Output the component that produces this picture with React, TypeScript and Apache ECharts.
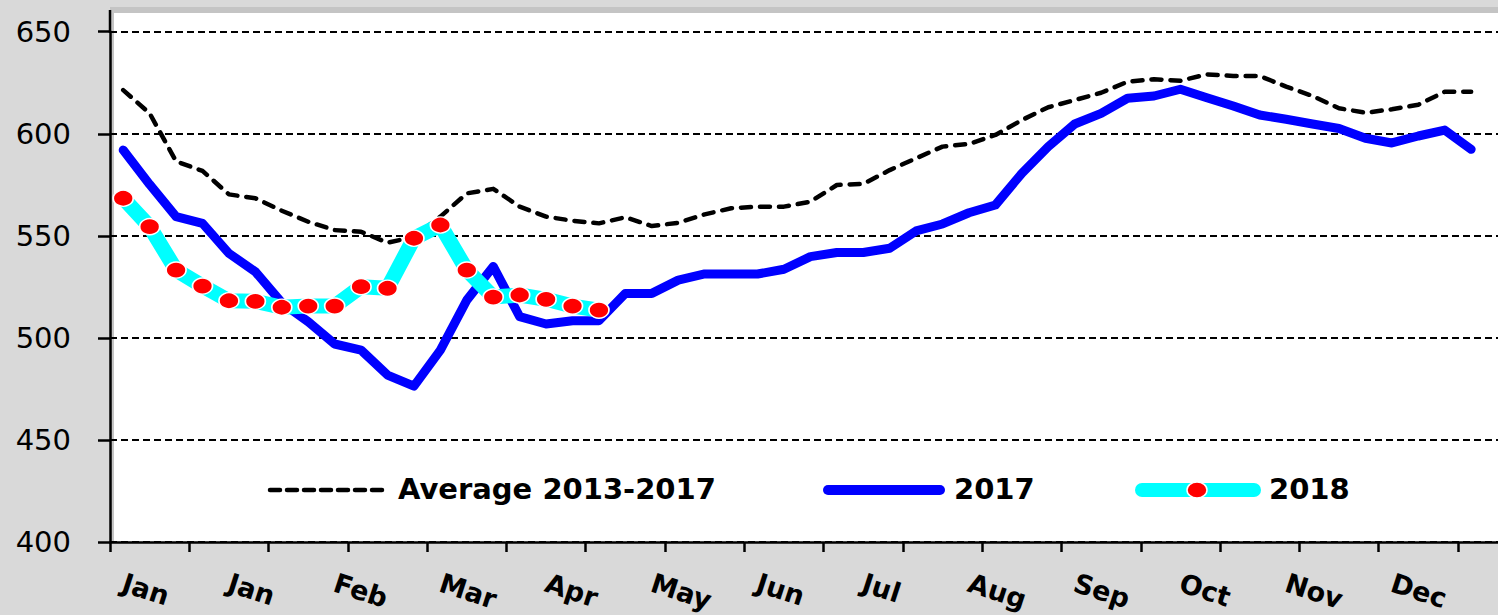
import React, { useEffect, useRef } from "react";
import * as echarts from "echarts";

// Weekly categories (month of each week); the 53rd slot is an unused, unlabeled week
const categories = [
  "Jan", "Jan", "Jan", "Jan", "Jan",
  "Feb", "Feb", "Feb", "Feb",
  "Mar", "Mar", "Mar", "Mar",
  "Apr", "Apr", "Apr", "Apr", "Apr",
  "May", "May", "May", "May",
  "Jun", "Jun", "Jun", "Jun",
  "Jul", "Jul", "Jul", "Jul", "Jul",
  "Aug", "Aug", "Aug", "Aug",
  "Sep", "Sep", "Sep", "Sep",
  "Oct", "Oct", "Oct", "Oct", "Oct",
  "Nov", "Nov", "Nov", "Nov",
  "Dec", "Dec", "Dec", "Dec",
  "",
];

const average2013_2017 = [
  621.4, 610, 586.5, 581.8, 570.3, 568.4, 562.3, 556.9, 552.8, 552,
  546.6, 549.5, 559.4, 570.8, 573, 564.3, 559.4, 557.4, 556.1, 559.1,
  554.8, 556.4, 560.5, 563.5, 564.3, 564.3, 566.7, 574.9, 575.4, 582.2,
  588, 593.7, 595, 599.4, 606.7, 613, 616.5, 620.1, 625.5, 626.7,
  626, 629.1, 628.3, 628.3, 623.1, 618.5, 612.5, 610.3, 612, 614.2,
  620.6, 620.6,
];

const values2017 = [
  592, 575.2, 559.4, 556.1, 541.4, 532.4, 517.2, 507.9, 497, 494,
  481.8, 476.4, 494, 518.5, 535, 510.4, 506.8, 508.4, 508.4, 521.8,
  521.8, 528.3, 531.3, 531.3, 531.3, 533.6, 539.8, 541.8, 541.8, 543.9,
  552.4, 555.8, 561.3, 565.1, 580.6, 593.7, 604.8, 610, 617.4, 618.5,
  621.8, 617.6, 613.6, 609.2, 607.1, 604.8, 602.6, 597.8, 595.5, 598.9,
  601.8, 592.4,
];

const values2018 = [
  568.4, 554.5, 533.2, 525.4, 518.2, 517.9, 515, 515.6, 515.6, 525.1,
  524.3, 548.8, 555.3, 533.2, 520, 521, 518.9, 515.6, 513.6,
];

const seriesNames = ["Average 2013-2017", "2017", "2018"];

const FONT = "DejaVu Sans";

export default function App() {
  const ref = useRef<HTMLDivElement>(null);

  useEffect(() => {
    if (!ref.current) return;
    const chart = echarts.init(ref.current, undefined, { renderer: "svg" });
    const legendY = 489;
    chart.setOption({
      animation: false,
      backgroundColor: "#d9d9d9",
      grid: { left: 110, top: 31.7, width: 1400.8, height: 510.3, containLabel: false },
      xAxis: {
        type: "category",
        data: categories,
        boundaryGap: true,
        axisLine: { show: true, lineStyle: { color: "#000", width: 2.5 } },
        axisTick: { show: true, interval: 2, length: 10, inside: false, lineStyle: { color: "#000", width: 2.5 } },
        axisLabel: {
          interval: 3,
          rotate: -18,
          margin: 40,
          color: "#000",
          fontFamily: FONT,
          fontWeight: "bold",
          fontSize: 27,
        },
        splitLine: { show: false },
      },
      yAxis: {
        type: "value",
        min: 400,
        max: 650,
        interval: 50,
        axisLine: { show: true, lineStyle: { color: "#000", width: 2.5 } },
        axisTick: { show: true, length: 12, inside: false, lineStyle: { color: "#000", width: 2.5 } },
        axisLabel: { margin: 39, color: "#000", fontFamily: FONT, fontSize: 29 },
        splitLine: { show: true, lineStyle: { color: "#000", width: 1.8, type: [7, 4] } },
      },
      series: [
        {
          name: seriesNames[0],
          type: "line",
          data: average2013_2017,
          symbol: "none",
          lineStyle: { color: "#000", width: 4.5, type: [10, 9], cap: "round", join: "round" },
          z: 2,
        },
        {
          name: seriesNames[1],
          type: "line",
          data: values2017,
          symbol: "none",
          lineStyle: { color: "#0000ff", width: 9, cap: "round", join: "round" },
          z: 3,
        },
        {
          name: seriesNames[2],
          type: "line",
          data: values2018,
          symbol: "circle",
          symbolSize: [20, 16],
          showAllSymbol: true,
          itemStyle: { color: "#ff0000", borderColor: "#fff", borderWidth: 1.5 },
          lineStyle: { color: "#00ffff", width: 15, cap: "round", join: "round" },
          z: 4,
        },
      ],
      graphic: [
        { type: "rect", z: -10, shape: { x: 110, y: 7, width: 1460, height: 535 }, style: { fill: "#c4c4c4" } },
        { type: "rect", z: -9, shape: { x: 114, y: 13, width: 1460, height: 529 }, style: { fill: "#ffffff" } },
        { type: "line", z: 10, shape: { x1: 110, y1: 10, x2: 110, y2: 33 }, style: { stroke: "#000", lineWidth: 2.5 } },
        // legend
        {
          type: "line", z: 100,
          shape: { x1: 270, y1: legendY + 1, x2: 384, y2: legendY + 1 },
          style: { stroke: "#000", lineWidth: 4.5, lineDash: [10, 7], lineCap: "round" },
        },
        {
          type: "text", z: 100, x: 398, y: legendY,
          style: { text: seriesNames[0], fill: "#000", font: `bold 29px "${FONT}"`, verticalAlign: "middle", align: "left" },
        },
        {
          type: "line", z: 100,
          shape: { x1: 828, y1: legendY + 1, x2: 940, y2: legendY + 1 },
          style: { stroke: "#0000ff", lineWidth: 10, lineCap: "round" },
        },
        {
          type: "text", z: 100, x: 954, y: legendY,
          style: { text: seriesNames[1], fill: "#000", font: `bold 29px "${FONT}"`, verticalAlign: "middle", align: "left" },
        },
        {
          type: "line", z: 100,
          shape: { x1: 1142, y1: legendY + 1, x2: 1254, y2: legendY + 1 },
          style: { stroke: "#00ffff", lineWidth: 14, lineCap: "round" },
        },
        {
          type: "ellipse", z: 101,
          shape: { cx: 1197, cy: legendY + 1, rx: 10, ry: 8 },
          style: { fill: "#ff0000", stroke: "#fff", lineWidth: 1.5 },
        },
        {
          type: "text", z: 100, x: 1269, y: legendY,
          style: { text: seriesNames[2], fill: "#000", font: `bold 29px "${FONT}"`, verticalAlign: "middle", align: "left" },
        },
      ],
    });
    return () => chart.dispose();
  }, []);

  return (
    <div style={{ position: "fixed", left: 0, top: 0, width: 1498, height: 615, overflow: "hidden", background: "#d9d9d9" }}>
      <div ref={ref} style={{ width: 1570, height: 615 }} />
    </div>
  );
}
